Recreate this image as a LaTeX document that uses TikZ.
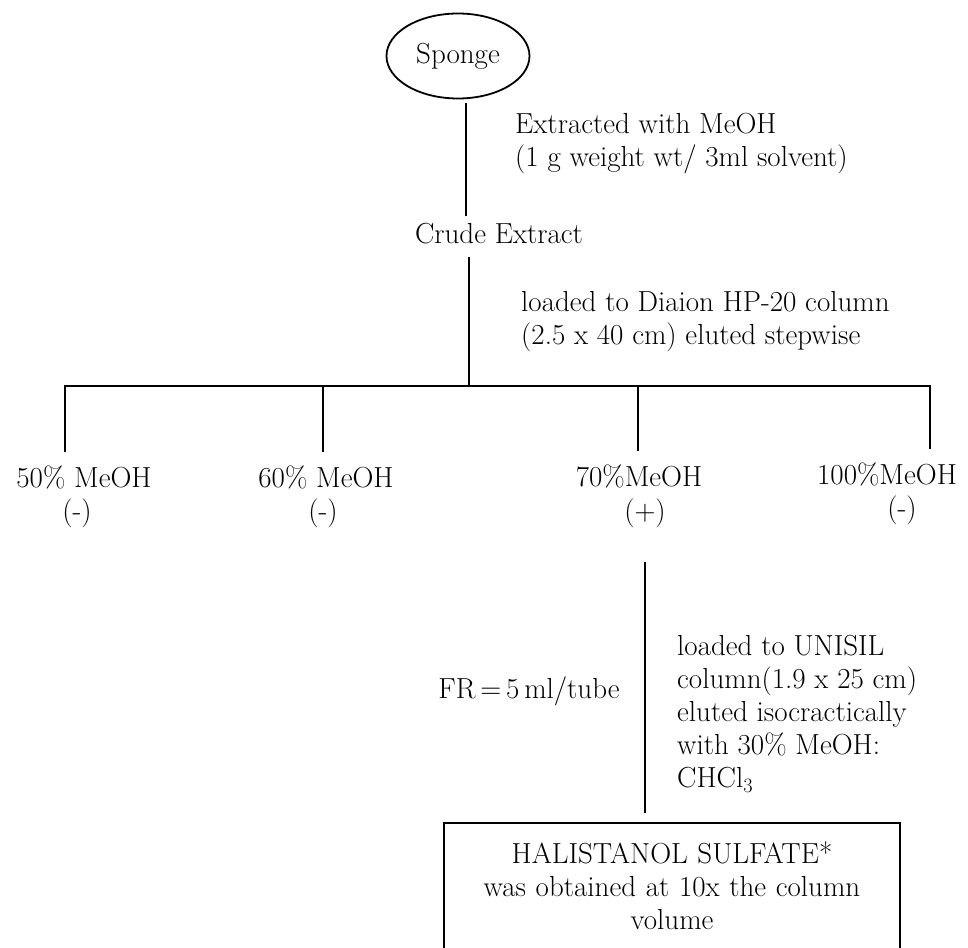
\documentclass[tikz,border=0pt]{standalone}
\usetikzlibrary{positioning,shapes.geometric}
\begin{document}
\begin{tikzpicture}[x=1pt, y=-1pt,
  every node/.style={font=\fontsize{29}{33}\selectfont, inner sep=0pt},
  main/.style={draw, ellipse, line width=1.8pt, minimum width=143pt, minimum height=85pt},
  note/.style={anchor=north west, align=left},
  frac/.style={anchor=base},
  link/.style={line width=1.8pt}]
\useasboundingbox (0,0) rectangle (968,947);
% top part
\node[main] (sponge) at (458,56) {Sponge};
\node[note] (extract) at (515,113) {Extracted with MeOH\\(1 g weight wt/ 3ml solvent)};
\node[frac] (crude) at (499,243) {Crude Extract};
\node[note] (diaion) at (521,291) {loaded to Diaion HP-20 column\\(2.5 x 40 cm) eluted stepwise};
\draw[link, shorten <=4pt, shorten >=7pt] ([xshift=8pt]sponge.south) -- ([xshift=8pt]sponge.south |- crude.north);
\coordinate (split) at (469,386);
\draw[link, shorten <=13pt] (crude.south -| split) -- (split);
% fractions
\node[frac] (f50) at (84,487) {50\% MeOH};
\node[frac] (s50) at (77,520) {(-)};
\node[frac] (f60) at (326,487) {60\% MeOH};
\node[frac] (s60) at (323,520) {(-)};
\node[frac] (f70) at (639,486) {70\%MeOH};
\node[frac] (s70) at (645,520) {(+)};
\node[frac] (f100) at (887,484) {100\%MeOH};
\node[frac] (s100) at (902,517) {(-)};
\foreach \f/\x in {50/65, 60/323, 70/638, 100/930}
  \coordinate (d\f) at (\x,386);
\draw[link, shorten <=13pt, shorten >=13pt] (d50 |- f50.north) -- (d50) -- (d100) -- (d100 |- f100.north);
\draw[link, shorten >=13pt] (d60) -- (d60 |- f60.north);
\draw[link, shorten >=13pt] (d70) -- (d70 |- f70.north);
% UNISIL column
\node[frac] (rate) at (529,698) {FR\,=\,5\,ml/tube};
\node[note] (unisil) at (677,635) {loaded to UNISIL\\column(1.9 x 25 cm)\\eluted isocractically\\with 30\% MeOH:\\CHCl\textsubscript{3}};
\node[anchor=north, text width=455pt, align=center, inner ysep=19pt] (res) at (672,823) {HALISTANOL SULFATE*\\was obtained at 10x the column\\volume};
\draw[link] ([yshift=-30pt]res.south west) |- (res.north east) -- ([yshift=-30pt]res.south east);
\draw[link, shorten <=35pt, shorten >=10pt] (s70.south) -- (s70.south |- res.north);
\end{tikzpicture}
\end{document}
